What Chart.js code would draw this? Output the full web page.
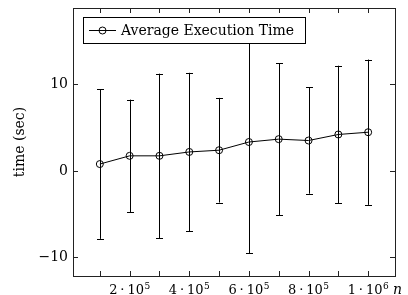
<!DOCTYPE html>
<html>
<head>
<meta charset="utf-8">
<script src="https://cdn.jsdelivr.net/npm/chart.js@4.4.1/dist/chart.umd.min.js"></script>
<style>
  html, body { margin: 0; padding: 0; background: #fff; }
  #wrap { width: 408px; height: 295px; }
</style>
</head>
<body>
<div id="wrap"><canvas id="execChart" width="408" height="295"></canvas></div>
<script>
// data
const sizes = [100000, 200000, 300000, 400000, 500000, 600000, 700000, 800000, 900000, 1000000];
const avgTime = [0.8, 1.75, 1.75, 2.2, 2.4, 3.35, 3.68, 3.52, 4.22, 4.48];
const timeErr = [8.65, 6.5, 9.5, 9.15, 6.05, 12.85, 8.8, 6.15, 7.95, 8.4];
const xTicks = [100000, 200000, 300000, 400000, 500000, 600000, 700000, 800000, 900000, 1000000];
// label = mantissa · 10^exponent, empty mantissa = no label
const xTickMant = ["", "2", "", "4", "", "6", "", "8", "", "1"];
const xTickExp = ["", "5", "", "5", "", "5", "", "5", "", "6"];
const yTicks = [-10, 0, 10];
const yTickLabels = ["−10", "0", "10"];

const FONT = "'DejaVu Serif', serif";

const errorBars = {
  id: "errorBars",
  beforeDatasetsDraw(chart) {
    const ctx = chart.ctx, xs = chart.scales.x, ys = chart.scales.y, a = chart.chartArea;
    ctx.save();
    ctx.beginPath();
    ctx.rect(a.left, a.top, a.right - a.left, a.bottom - a.top);
    ctx.clip();
    ctx.strokeStyle = "#000";
    ctx.lineWidth = 1;
    sizes.forEach(function (n, i) {
      const x = Math.round(xs.getPixelForValue(n)) + 0.5;
      const y1 = ys.getPixelForValue(avgTime[i] + timeErr[i]);
      const y2 = ys.getPixelForValue(avgTime[i] - timeErr[i]);
      ctx.beginPath();
      ctx.moveTo(x, y1); ctx.lineTo(x, y2);
      ctx.moveTo(x - 3.5, Math.round(y1) + 0.5); ctx.lineTo(x + 3.5, Math.round(y1) + 0.5);
      ctx.moveTo(x - 3.5, Math.round(y2) + 0.5); ctx.lineTo(x + 3.5, Math.round(y2) + 0.5);
      ctx.stroke();
    });
    ctx.restore();
  }
};

const frame = {
  id: "frame",
  afterDraw(chart) {
    const ctx = chart.ctx, xs = chart.scales.x, ys = chart.scales.y, a = chart.chartArea;
    ctx.save();
    ctx.strokeStyle = "#222";
    ctx.lineWidth = 1;
    // inward ticks
    ctx.beginPath();
    xTicks.forEach(function (v) {
      const x = Math.round(xs.getPixelForValue(v)) + 0.5;
      ctx.moveTo(x, a.bottom); ctx.lineTo(x, a.bottom - 5);
      ctx.moveTo(x, a.top); ctx.lineTo(x, a.top + 5);
    });
    yTicks.forEach(function (v) {
      const y = Math.round(ys.getPixelForValue(v)) + 0.5;
      ctx.moveTo(a.left, y); ctx.lineTo(a.left + 5, y);
      ctx.moveTo(a.right, y); ctx.lineTo(a.right - 5, y);
    });
    ctx.stroke();
    ctx.strokeRect(Math.round(a.left) + 0.5, Math.round(a.top) + 0.5,
      Math.round(a.right - a.left), Math.round(a.bottom - a.top));

    // x tick labels: m · 10^e
    ctx.fillStyle = "#000";
    ctx.textBaseline = "alphabetic";
    ctx.textAlign = "left";
    xTicks.forEach(function (v, i) {
      if (!xTickMant[i]) return;
      ctx.font = "13px " + FONT;
      const wm = ctx.measureText(xTickMant[i]).width;
      const wt = ctx.measureText("10").width;
      const wd = ctx.measureText("·").width;
      ctx.font = "9px " + FONT;
      const we = ctx.measureText(xTickExp[i]).width;
      const gap = 10;
      const total = wm + gap + wt + 0.5 + we;
      const x0 = xs.getPixelForValue(v) - total / 2;
      ctx.font = "13px " + FONT;
      ctx.fillText(xTickMant[i], x0, 294);
      ctx.fillText("·", x0 + wm + gap / 2 - wd / 2, 294);
      ctx.fillText("10", x0 + wm + gap, 294);
      ctx.font = "9px " + FONT;
      ctx.fillText(xTickExp[i], x0 + wm + gap + wt + 0.5, 289);
    });

    // legend box
    ctx.fillStyle = "#fff";
    ctx.fillRect(83, 17, 222, 26);
    ctx.strokeStyle = "#000";
    ctx.strokeRect(83.5, 17.5, 222, 26);
    ctx.beginPath();
    ctx.moveTo(89, 30.5); ctx.lineTo(116, 30.5);
    ctx.stroke();
    ctx.beginPath();
    ctx.arc(102.5, 30.5, 3.5, 0, Math.PI * 2);
    ctx.stroke();
    ctx.fillStyle = "#000";
    ctx.font = "14px " + FONT;
    ctx.fillText("Average Execution Time", 121, 35);

    // x axis label
    ctx.font = "italic 14px " + FONT;
    ctx.fillText("n", 393, 294);
    ctx.restore();
  }
};

new Chart(document.getElementById("execChart").getContext("2d"), {
  type: "line",
  data: {
    datasets: [{
      label: "Average Execution Time",
      data: sizes.map(function (n, i) { return { x: n, y: avgTime[i] }; }),
      borderColor: "#000",
      borderWidth: 1,
      pointRadius: 3.5,
      pointBorderWidth: 1,
      pointBorderColor: "#000",
      pointBackgroundColor: "rgba(0,0,0,0)",
      tension: 0,
      clip: false
    }]
  },
  options: {
    responsive: false,
    animation: false,
    layout: { padding: { left: 0, right: 13, top: 8, bottom: 0 } },
    plugins: { legend: { display: false }, tooltip: { enabled: false } },
    scales: {
      x: {
        type: "linear",
        min: 10000,
        max: 1090000,
        grid: { display: false, drawTicks: false },
        border: { display: false },
        afterBuildTicks(scale) { scale.ticks = xTicks.map(function (v) { return { value: v }; }); },
        afterFit(scale) { scale.height = 19; scale.paddingLeft = 0; scale.paddingRight = 0; },
        ticks: { display: false }
      },
      y: {
        min: -12.14,
        max: 18.84,
        grid: { display: false, drawTicks: false },
        border: { display: false },
        afterBuildTicks(scale) { scale.ticks = yTicks.map(function (v) { return { value: v }; }); },
        afterFit(scale) { scale.width = 73; scale.paddingTop = 0; scale.paddingBottom = 0; },
        ticks: {
          padding: 5,
          color: "#000",
          font: { family: FONT, size: 14 },
          callback: function (v) { return yTickLabels[yTicks.indexOf(v)]; }
        },
        title: {
          display: true,
          text: "time (sec)",
          color: "#000",
          font: { family: FONT, size: 14 },
          padding: { top: 12, bottom: 0 }
        }
      }
    }
  },
  plugins: [errorBars, frame]
});
</script>
</body>
</html>
